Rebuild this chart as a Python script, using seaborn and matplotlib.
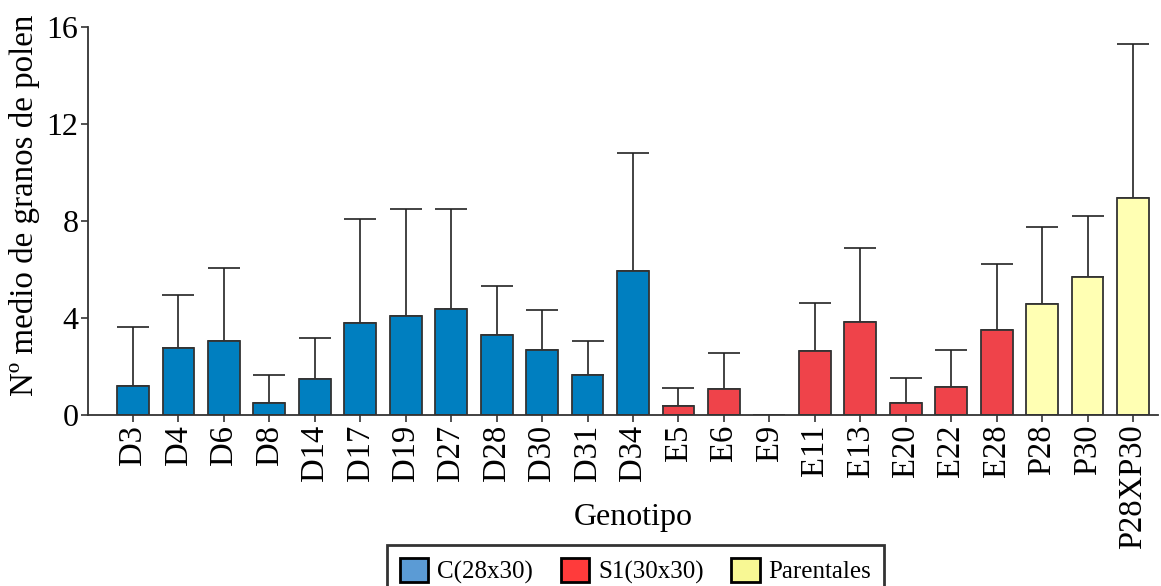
import matplotlib
matplotlib.use("Agg")
import matplotlib.pyplot as plt
from matplotlib.patches import Patch
import numpy as np
import pandas as pd
import seaborn as sns

genotipos = ["D3", "D4", "D6", "D8", "D14", "D17", "D19", "D27", "D28", "D30", "D31", "D34",
             "E5", "E6", "E9", "E11", "E13", "E20", "E22", "E28",
             "P28", "P30", "P28XP30"]
grupos = ["C(28x30)"] * 12 + ["S1(30x30)"] * 8 + ["Parentales"] * 3
medias = [1.20, 2.78, 3.07, 0.51, 1.50, 3.81, 4.10, 4.39, 3.31, 2.67, 1.64, 5.96,
          0.36, 1.06, 0.0, 2.63, 3.85, 0.51, 1.14, 3.51,
          4.58, 5.71, 8.94]
desv = [2.44, 2.19, 2.98, 1.13, 1.66, 4.29, 4.40, 4.11, 2.01, 1.66, 1.43, 4.84,
        0.74, 1.51, 0.0, 2.00, 3.04, 1.03, 1.53, 2.73,
        3.19, 2.50, 6.38]
yticks = [0, 4, 8, 12, 16]

bar_colors = {"C(28x30)": "#007fc0", "S1(30x30)": "#ef434a", "Parentales": "#ffffb3"}
legend_colors = {"C(28x30)": "#5b9bd5", "S1(30x30)": "#ff3b3b", "Parentales": "#f8f894"}

df = pd.DataFrame({"Genotipo": genotipos, "Grupo": grupos, "Media": medias, "SD": desv})

sns.set_style("ticks")
plt.rcParams["font.family"] = ["Liberation Serif", "DejaVu Serif"]
plt.rcParams["text.color"] = "black"
plt.rcParams["xtick.labelcolor"] = "black"
plt.rcParams["ytick.labelcolor"] = "black"
plt.rcParams["axes.labelcolor"] = "black"

fig = plt.figure(figsize=(11.61, 5.86), dpi=100)
ax = fig.add_axes([88 / 1161, 1 - 415 / 586, (1158 - 88) / 1161, (415 - 27.3) / 586])

sns.barplot(data=df, x="Genotipo", y="Media", hue="Grupo", palette=bar_colors,
            dodge=False, width=0.7, edgecolor="#333333", linewidth=1.3, saturation=1,
            legend=False, ax=ax, errorbar=None)

xs = np.arange(len(genotipos))
m = np.array(desv) > 0
ax.errorbar(xs[m], np.array(medias)[m], yerr=[np.zeros(m.sum()), np.array(desv)[m]],
            fmt="none", ecolor="#222222", elinewidth=1.2, capsize=11.5, capthick=1.2,
            zorder=1)
for p in ax.patches:
    p.set_zorder(2)

ax.set_ylim(0, 16)
ax.set_xlim(-0.99, len(genotipos) - 1 + 0.55)
ax.set_yticks(yticks)
ax.set_yticklabels([str(v) for v in yticks], fontsize=23, color="black")
ax.set_xticks(xs)
ax.set_xticklabels(genotipos, rotation=90, fontsize=23.5, color="black")
ax.tick_params(axis="both", direction="out", length=5, width=1.2, color="#333333", pad=2)
for s in ["top", "right"]:
    ax.spines[s].set_visible(False)
for s in ["left", "bottom"]:
    ax.spines[s].set_color("#333333")
    ax.spines[s].set_linewidth(1.3)

ax.set_xlabel("")
ax.set_ylabel("")
fig.text(25 / 1161, 1 - 205 / 586, "Nº medio de granos de polen", fontsize=23.8,
         rotation=90, ha="center", va="center", color="black")
fig.text(633 / 1161, 1 - 517 / 586, "Genotipo", fontsize=23, ha="center", va="center",
         color="black")

handles = [Patch(facecolor=legend_colors[g], edgecolor="black", linewidth=2, label=g)
           for g in ["C(28x30)", "S1(30x30)", "Parentales"]]
leg = fig.legend(handles=handles, loc="upper center", bbox_to_anchor=(635.5 / 1161, 1 - 545 / 586),
                 ncol=3, fontsize=18, frameon=True, fancybox=False, edgecolor="black",
                 handlelength=1.15, handleheight=1.15, handletextpad=0.35, columnspacing=1.1,
                 borderpad=0.5, borderaxespad=0)
leg.get_frame().set_linewidth(2)
for t in leg.get_texts():
    t.set_color("black")

fig.savefig("out.png", dpi=100)
